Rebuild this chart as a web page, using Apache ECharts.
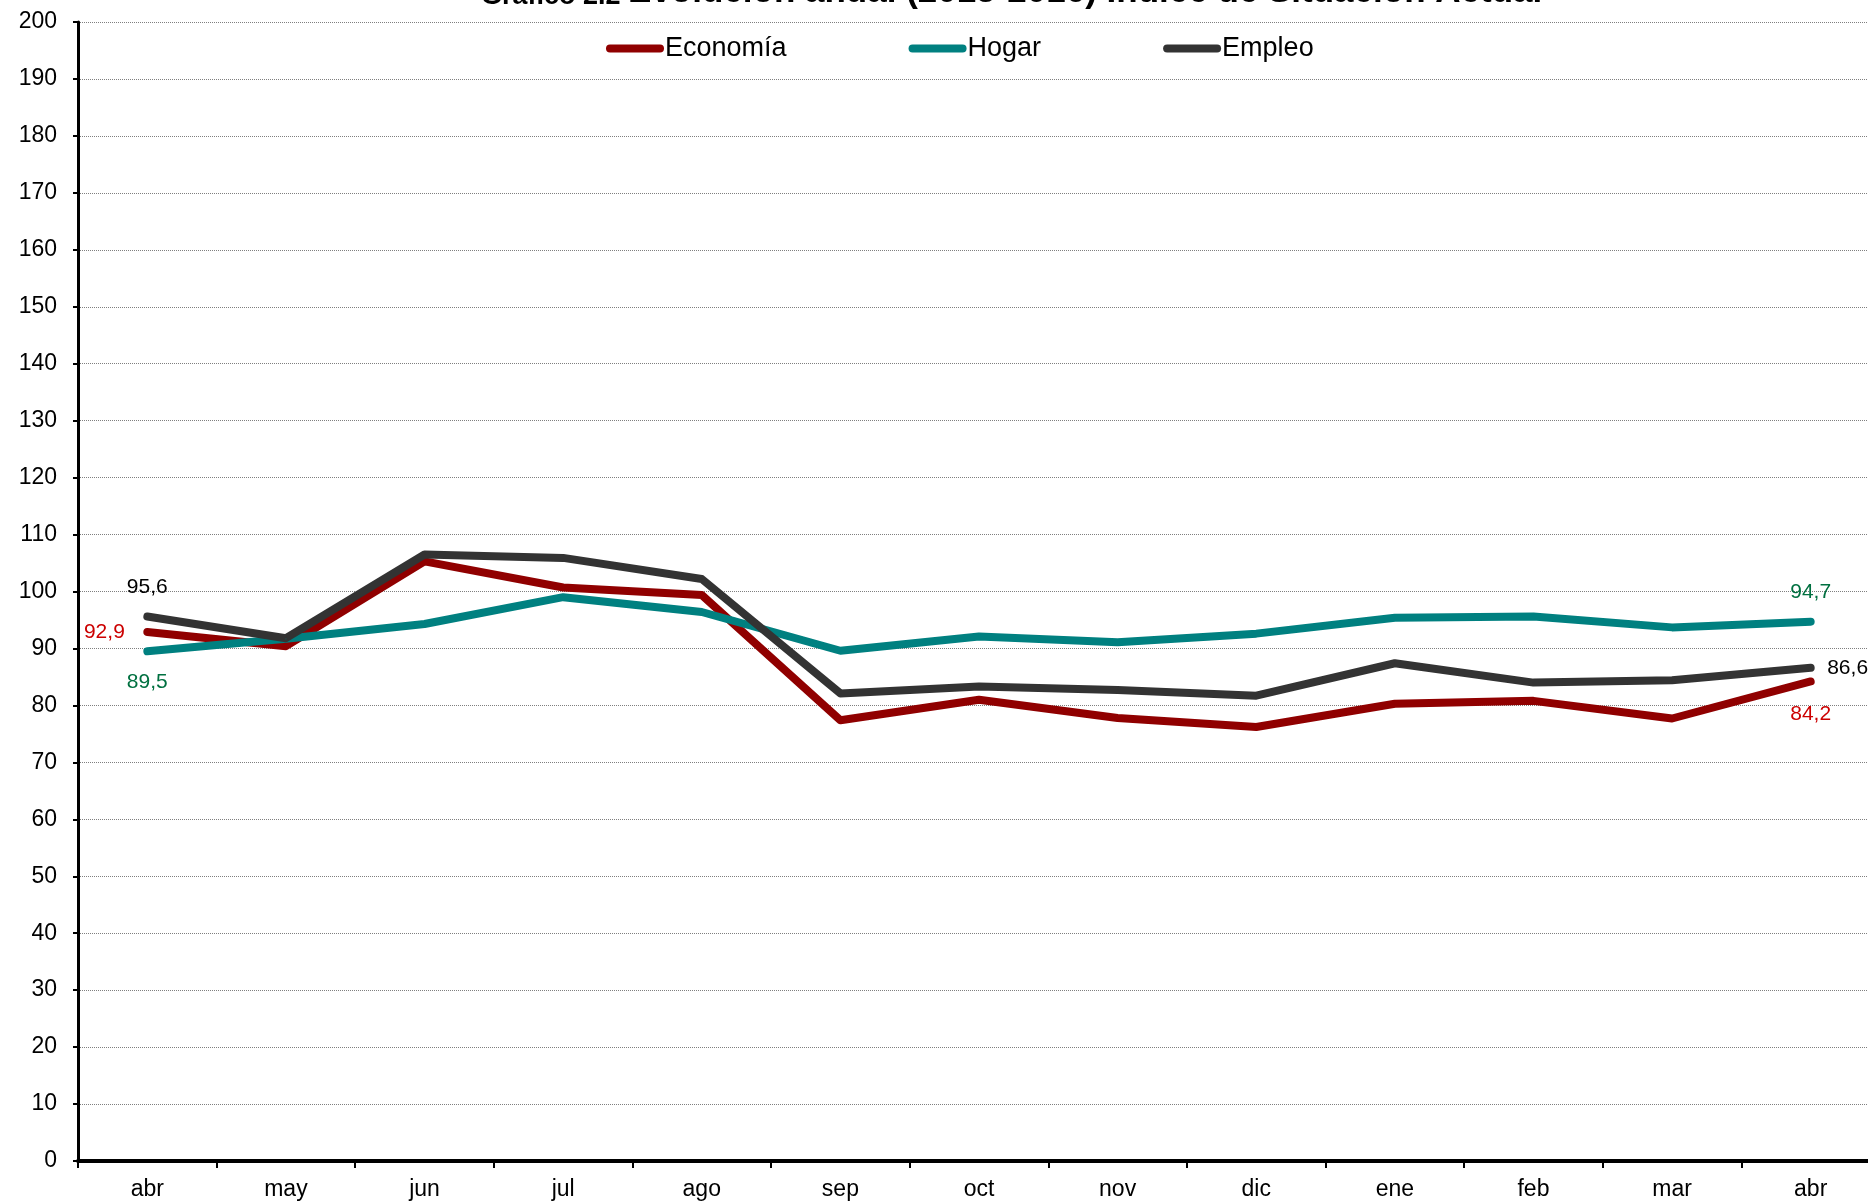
<!DOCTYPE html>
<html>
<head>
<meta charset="utf-8">
<script src="https://cdn.jsdelivr.net/npm/echarts@6/dist/echarts.min.js"></script>
<style>
html,body{margin:0;padding:0;background:#fff;overflow:hidden;}
#chart{width:1880px;height:1203px;}
</style>
</head>
<body>
<div id="chart"></div>
<script>
var categories = ['abr','may','jun','jul','ago','sep','oct','nov','dic','ene','feb','mar','abr'];
var economia = [92.9, 90.4, 105.3, 100.7, 99.4, 77.4, 81.0, 77.8, 76.2, 80.3, 80.8, 77.7, 84.2];
var hogar    = [89.5, 91.7, 94.3, 99.0, 96.4, 89.6, 92.1, 91.1, 92.6, 95.4, 95.6, 93.7, 94.7];
var empleo   = [95.6, 91.8, 106.5, 105.9, 102.2, 82.1, 83.3, 82.7, 81.7, 87.4, 84.0, 84.4, 86.6];
var seriesNames = ['Economía','Hogar','Empleo'];
var yTicks = {min: 0, max: 200, interval: 10};

var FONT = '"Liberation Sans", Arial, sans-serif';

function fmt(v){ return v.toFixed(1).replace('.', ','); }

function withEndLabels(values, firstLbl, lastLbl){
  return values.map(function(v, i){
    if (i === 0) return {value: v, label: Object.assign({show: true}, firstLbl)};
    if (i === values.length - 1) return {value: v, label: Object.assign({show: true}, lastLbl)};
    return v;
  });
}

function lbl(pos, dist, color){
  return {position: pos, distance: dist, color: color, fontSize: 21, fontFamily: FONT,
          formatter: function(p){ return fmt(p.value); }};
}

var chart = echarts.init(document.getElementById('chart'));
var lineCommon = {
  type: 'line', symbol: 'circle', symbolSize: 1, smooth: false,
  label: {show: false}, emphasis: {disabled: true}
};

chart.setOption({
  animation: false,
  backgroundColor: '#fff',
  title: {
    left: 476, top: -30,
    text: '{a|Gráfico 2.2 }{b|Evolución anual (2015-2016) Índice de Situación Actual}',
    textStyle: {
      rich: {
        a: {fontSize: 27, fontWeight: 'bold', fontFamily: FONT, color: '#000', verticalAlign: 'bottom'},
        b: {fontSize: 35, fontWeight: 'bold', fontFamily: FONT, color: '#000', verticalAlign: 'bottom'}
      }
    }
  },
  legend: {
    left: 601, top: 30,
    itemWidth: 58, itemHeight: 8, itemGap: 122,
    icon: 'path://M4,0 H54 A4,4 0 0 1 54,8 H4 A4,4 0 0 1 4,0 Z',
    textStyle: {fontSize: 27, fontFamily: FONT, color: '#000', padding: [0,0,0,-4]},
    data: seriesNames
  },
  grid: {left: 78, right: 0, top: 22, bottom: 42, containLabel: false},
  xAxis: {
    type: 'category', data: categories, boundaryGap: true,
    axisLine: {lineStyle: {color: '#000', width: 4}},
    axisTick: {show: true, length: 7, lineStyle: {color: '#000', width: 2}},
    axisLabel: {fontSize: 23, fontFamily: FONT, color: '#000', margin: 17},
    splitLine: {show: false}
  },
  yAxis: {
    type: 'value', min: yTicks.min, max: yTicks.max, interval: yTicks.interval,
    axisLine: {show: true, lineStyle: {color: '#000', width: 3}},
    axisTick: {show: true, length: 5, lineStyle: {color: '#000', width: 2}},
    axisLabel: {fontSize: 23, fontFamily: FONT, color: '#000', margin: 21},
    splitLine: {show: true, lineStyle: {color: '#7f7f7f', width: 1, type: 'dotted'}}
  },
  series: [
    Object.assign({}, lineCommon, {
      name: seriesNames[0], color: '#900000',
      lineStyle: {width: 8, color: '#900000', cap: 'round', join: 'round'},
      itemStyle: {color: '#900000'},
      data: withEndLabels(economia, lbl('left', 22, '#CC0000'), lbl('bottom', 22, '#CC0000'))
    }),
    Object.assign({}, lineCommon, {
      name: seriesNames[1], color: '#008080',
      lineStyle: {width: 8, color: '#008080', cap: 'round', join: 'round'},
      itemStyle: {color: '#008080'},
      data: withEndLabels(hogar, lbl('bottom', 20, '#007040'), lbl('top', 18, '#007040'))
    }),
    Object.assign({}, lineCommon, {
      name: seriesNames[2], color: '#333333',
      lineStyle: {width: 8, color: '#333333', cap: 'round', join: 'round'},
      itemStyle: {color: '#333333'},
      data: withEndLabels(empleo, lbl('top', 18, '#000000'), lbl('right', 16, '#000000'))
    })
  ]
});
</script>
</body>
</html>
